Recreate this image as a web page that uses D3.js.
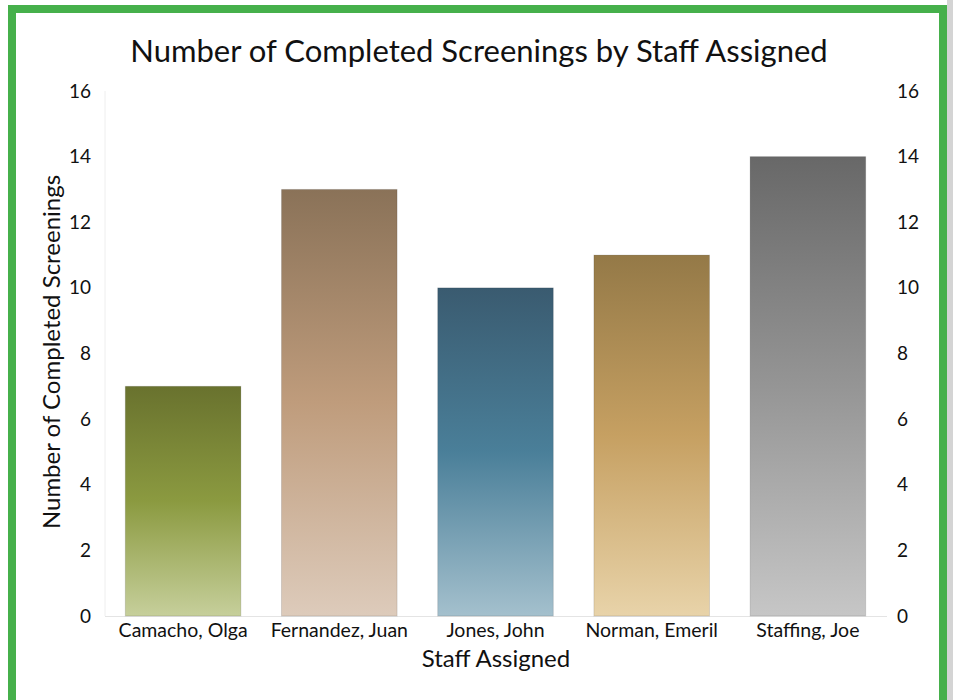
<!DOCTYPE html>
<html>
<head>
<meta charset="utf-8">
<script src="https://cdn.jsdelivr.net/npm/d3@7"></script>
<style>
body { margin: 0; background: #fff; }
svg text { font-family: Lato, "Open Sans", sans-serif; fill: #111; }
</style>
</head>
<body>
<div id="chart"></div>
<script>
var staff = ["Camacho, Olga", "Fernandez, Juan", "Jones, John", "Norman, Emeril", "Staffing, Joe"]
var screenings = [7, 13, 10, 11, 14]
var yTicks = [0, 2, 4, 6, 8, 10, 12, 14, 16]
// top, middle, bottom colour of each bar's gradient
var barColors = [
    ["#69722e", "#8b9a40", "#c6cf9b"],
    ["#8a7258", "#bf9c7c", "#ddcbbb"],
    ["#3a5b70", "#4a7f99", "#a4c0cd"],
    ["#947947", "#c6a062", "#e8d3a9"],
    ["#686868", "#959595", "#c6c6c6"]
]

var width = 953, height = 700
var svg = d3.select("#chart").append("svg").attr("width", width).attr("height", height)

// page frame
svg.append("rect").attr("x", 947).attr("y", 0).attr("width", 6).attr("height", height).attr("fill", "#d4d4d4")
svg.append("rect")
    .attr("x", 12).attr("y", 9).attr("width", 931).attr("height", 700)
    .attr("fill", "#fff").attr("stroke", "#46b04b").attr("stroke-width", 8)

var x = d3.scaleBand().domain(staff).range([105, 886]).paddingInner(0.26).paddingOuter(0.13)
var y = d3.scaleLinear().domain([0, 16]).range([616, 91])

var defs = svg.append("defs")
staff.forEach(function(s, i) {
    var g = defs.append("linearGradient").attr("id", "grad" + i)
        .attr("x1", 0).attr("y1", 0).attr("x2", 0).attr("y2", 1)
    g.append("stop").attr("offset", "0%").attr("stop-color", barColors[i][0])
    g.append("stop").attr("offset", "50%").attr("stop-color", barColors[i][1])
    g.append("stop").attr("offset", "100%").attr("stop-color", barColors[i][2])
})

// faint left axis line and baseline
svg.append("line").attr("x1", 105).attr("x2", 105).attr("y1", y(16)).attr("y2", y(0))
    .attr("stroke", "#eeeeee")
svg.append("line").attr("x1", 105).attr("x2", 887).attr("y1", y(0) + 0.5).attr("y2", y(0) + 0.5)
    .attr("stroke", "#e4e4e4")

svg.append("g").selectAll("rect")
    .data(screenings)
    .enter().append("rect")
    .attr("x", function(d, i) { return x(staff[i]) })
    .attr("y", function(d) { return y(d) })
    .attr("width", x.bandwidth())
    .attr("height", function(d) { return y(0) - y(d) })
    .attr("fill", function(d, i) { return "url(#grad" + i + ")" })
    .attr("stroke", "rgba(0,0,0,0.12)")
    .attr("stroke-width", 1)

var leftAxis = svg.append("g").attr("transform", "translate(91,0)")
    .call(d3.axisLeft(y).tickValues(yTicks).tickSize(0).tickPadding(0))
var rightAxis = svg.append("g").attr("transform", "translate(897,0)")
    .call(d3.axisRight(y).tickValues(yTicks).tickSize(0).tickPadding(0))
var bottomAxis = svg.append("g").attr("transform", "translate(0," + y(0) + ")")
    .call(d3.axisBottom(x).tickSize(0).tickPadding(7))

;[leftAxis, rightAxis, bottomAxis].forEach(function(a) {
    a.select(".domain").remove()
    a.selectAll("text").style("font-family", "Lato, sans-serif").style("fill", "#111")
})
leftAxis.selectAll("text").attr("font-size", 19)
rightAxis.selectAll("text").attr("font-size", 19)
bottomAxis.selectAll("text").attr("font-size", 19.5).attr("dy", "0.71em")

svg.append("text").attr("x", 479).attr("y", 62).attr("text-anchor", "middle")
    .attr("font-size", 31).text("Number of Completed Screenings by Staff Assigned")

svg.append("text").attr("x", 496).attr("y", 667).attr("text-anchor", "middle")
    .attr("font-size", 24).text("Staff Assigned")

svg.append("text").attr("transform", "translate(60,352) rotate(-90)").attr("text-anchor", "middle")
    .attr("font-size", 24).text("Number of Completed Screenings")
</script>
</body>
</html>
